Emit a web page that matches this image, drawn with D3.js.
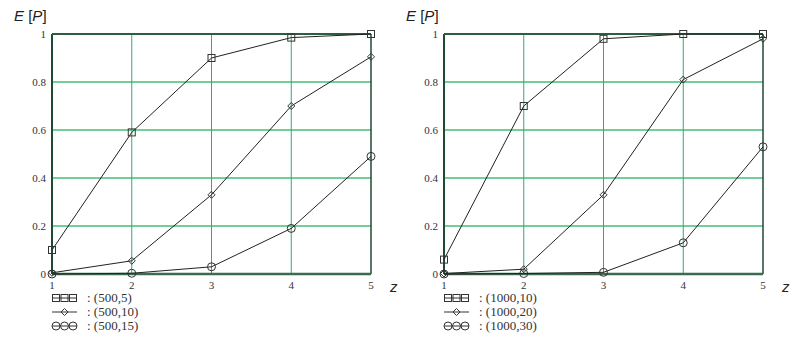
<!DOCTYPE html>
<html>
<head>
<meta charset="utf-8">
<script src="https://cdn.jsdelivr.net/npm/d3@7"></script>
<style>
  body { margin: 0; background: #fff; }
  svg text { font-family: "Liberation Serif", "Times New Roman", serif; }
  .lbl { font-family: "Liberation Sans", Arial, sans-serif; font-style: italic; }
</style>
</head>
<body>
<svg id="chart" width="790" height="344"></svg>
<script>
// data
var zValues = [1, 2, 3, 4, 5];
var yTicks = [0, 0.2, 0.4, 0.6, 0.8, 1];
var yTickLabels = ["0", "0.2", "0.4", "0.6", "0.8", "1"];

var leftSquares  = [0.10, 0.59, 0.90, 0.985, 1.0];
var leftDiamonds = [0.005, 0.055, 0.33, 0.70, 0.905];
var leftCircles  = [0.0, 0.003, 0.03, 0.19, 0.49];
var leftNames    = ["(500,5)", "(500,10)", "(500,15)"];

var rightSquares  = [0.06, 0.70, 0.98, 1.0, 1.0];
var rightDiamonds = [0.002, 0.02, 0.33, 0.81, 0.98];
var rightCircles  = [0.0, 0.002, 0.007, 0.13, 0.53];
var rightNames    = ["(1000,10)", "(1000,20)", "(1000,30)"];

var svg = d3.select("#chart");

function drawMarker(g, type, x, y) {
    if (type === "square") {
        g.append("rect").attr("x", x - 3.5).attr("y", y - 3.5)
            .attr("width", 7).attr("height", 7)
            .style("fill", "none").style("stroke", "#333").style("stroke-width", 1);
    } else if (type === "diamond") {
        g.append("path")
            .attr("d", "M" + x + "," + (y - 3.5) + "L" + (x + 3.5) + "," + y +
                "L" + x + "," + (y + 3.5) + "L" + (x - 3.5) + "," + y + "Z")
            .style("fill", "none").style("stroke", "#333").style("stroke-width", 1);
    } else {
        g.append("circle").attr("cx", x).attr("cy", y).attr("r", 4)
            .style("fill", "none").style("stroke", "#333").style("stroke-width", 1);
    }
}

function DrawPanel(left, right, series, names) {
    var top = 34, bottom = 274;
    var x = d3.scaleLinear().domain([1, 5]).range([left, right]);
    var y = d3.scaleLinear().domain([0, 1]).range([bottom, top]);
    var g = svg.append("g");

    // horizontal grid (light green, thicker)
    g.selectAll(".hgrid").data(yTicks.slice(1, -1)).enter().append("line")
        .attr("x1", left).attr("x2", right)
        .attr("y1", d => y(d)).attr("y2", d => y(d))
        .style("stroke", "#72cf9a").style("stroke-width", 2);
    // vertical grid
    g.selectAll(".vgrid").data(zValues.slice(1, -1)).enter().append("line")
        .attr("x1", d => x(d)).attr("x2", d => x(d))
        .attr("y1", top).attr("y2", bottom)
        .style("stroke", "#2fae68").style("stroke-width", 1);

    // frame
    g.append("line").attr("x1", left).attr("x2", left).attr("y1", top).attr("y2", bottom)
        .style("stroke", "#1f4a33").style("stroke-width", 2);
    g.append("line").attr("x1", right).attr("x2", right).attr("y1", top).attr("y2", bottom)
        .style("stroke", "#1f4a33").style("stroke-width", 1.5);
    g.append("line").attr("x1", left).attr("x2", right).attr("y1", top).attr("y2", top)
        .style("stroke", "#2d5e42").style("stroke-width", 2);
    g.append("line").attr("x1", left).attr("x2", right).attr("y1", bottom).attr("y2", bottom)
        .style("stroke", "#3b6b50").style("stroke-width", 2.5);

    // tick labels
    g.selectAll(".ylab").data(yTicks).enter().append("text")
        .attr("x", left - 6).attr("y", d => y(d) + 4)
        .attr("text-anchor", "end").style("font-size", "11px").style("fill", "#333")
        .text((d, i) => yTickLabels[i]);
    g.selectAll(".xlab").data(zValues).enter().append("text")
        .attr("x", d => x(d)).attr("y", bottom + 15)
        .attr("text-anchor", "middle").style("font-size", "11px").style("fill", "#333")
        .text(d => d);

    // axis titles
    g.append("text").attr("class", "lbl").attr("x", left - 38).attr("y", 21)
        .style("font-size", "15px").style("fill", "#222")
        .html("E <tspan style='font-style:normal'>[</tspan>P<tspan style='font-style:normal'>]</tspan>");
    g.append("text").attr("class", "lbl").attr("x", right + 19).attr("y", bottom + 18)
        .style("font-size", "15px").style("fill", "#222").text("z");

    // series
    var line = d3.line().x((d, i) => x(zValues[i])).y(d => y(d));
    series.forEach(function (s) {
        g.append("path").attr("d", line(s.values))
            .style("fill", "none").style("stroke", "#222").style("stroke-width", 1);
        s.values.forEach(function (v, i) {
            drawMarker(g, s.type, x(zValues[i]), y(v));
        });
    });

    // legend
    series.forEach(function (s, k) {
        var ly = bottom + 24 + k * 14;
        var lg = g.append("g");
        lg.append("line").attr("x1", left).attr("x2", left + 25).attr("y1", ly).attr("y2", ly)
            .style("stroke", "#333").style("stroke-width", 1);
        if (s.type === "diamond") {
            drawMarker(lg, s.type, left + 12.5, ly);
        } else {
            [0, 1, 2].forEach(function (j) {
                drawMarker(lg, s.type, left + 4 + j * 8.5, ly);
            });
        }
        lg.append("text").attr("x", left + 35).attr("y", ly + 4)
            .style("font-size", "13px").style("fill", "#333")
            .text(": " + names[k]);
    });
}

DrawPanel(52, 371, [
    {type: "square", values: leftSquares},
    {type: "diamond", values: leftDiamonds},
    {type: "circle", values: leftCircles}
], leftNames);

DrawPanel(444, 763, [
    {type: "square", values: rightSquares},
    {type: "diamond", values: rightDiamonds},
    {type: "circle", values: rightCircles}
], rightNames);
</script>
</body>
</html>
